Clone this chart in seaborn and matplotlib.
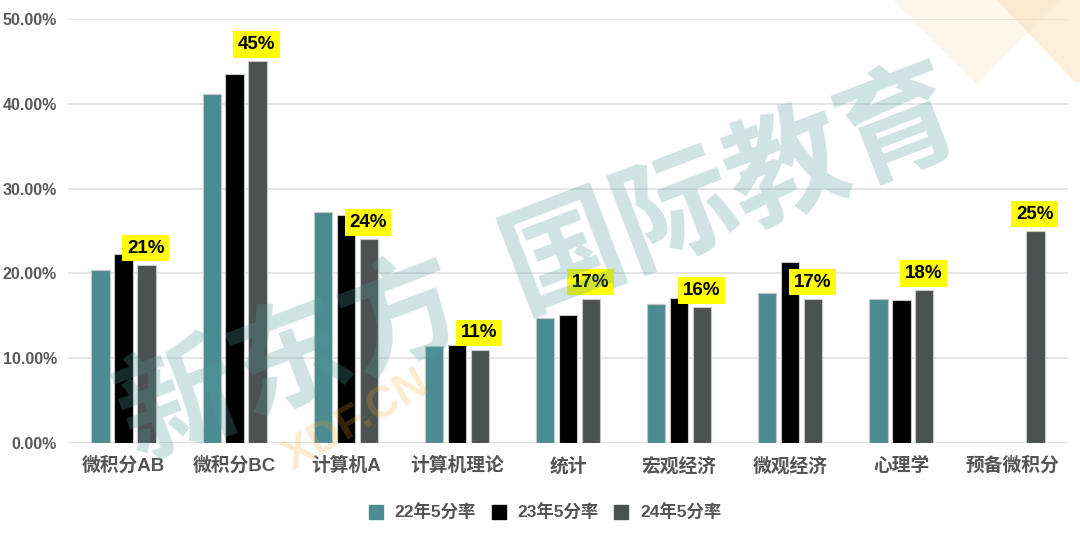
import numpy as np
import pandas as pd
import seaborn as sns
import matplotlib.pyplot as plt
from matplotlib.patches import Polygon
from matplotlib.lines import Line2D

categories = ['微积分AB', '微积分BC', '计算机A', '计算机理论', '统计', '宏观经济', '微观经济', '心理学', '预备微积分']
series_names = ['22年5分率', '23年5分率', '24年5分率']
rate_22 = [20.4, 41.2, 27.2, 11.4, 14.7, 16.4, 17.7, 17.0, np.nan]
rate_23 = [22.3, 43.5, 26.9, 11.5, 15.1, 17.1, 21.3, 16.9, np.nan]
rate_24 = [21, 45, 24, 11, 17, 16, 17, 18, 25]
y_ticks = [0, 10, 20, 30, 40, 50]

colors = ['#4B8C93', '#000000', '#4B5251']

sns.set_theme(style='white')
plt.rcParams['font.family'] = ['Liberation Sans', 'Noto Sans CJK SC', 'DejaVu Sans']

rows = []
for name, vals in zip(series_names, [rate_22, rate_23, rate_24]):
    for c, v in zip(categories, vals):
        rows.append({'科目': c, '系列': name, '5分率': v})
df = pd.DataFrame(rows)

fig = plt.figure(figsize=(10.8, 5.36), dpi=100)
ax = fig.add_axes([68/1080, 1-443/536, 1000/1080, 424/536])

sns.barplot(data=df, x='科目', y='5分率', hue='系列', order=categories,
            hue_order=series_names, palette=colors, saturation=1, width=0.62, gap=0.2,
            edgecolor='#C8C8C8', linewidth=0.8, ax=ax, legend=False, zorder=3)

ax.set_ylim(0, 50)
ax.set_xlim(-0.5, len(categories) - 0.5)
ax.set_yticks(y_ticks)
ax.set_yticklabels([f'{t:.2f}%' for t in y_ticks], fontweight='bold', color='#595959', fontsize=11.5)
ax.set_xticks(range(len(categories)))
ax.set_xticklabels(categories, fontweight='bold', color='#555555', fontsize=13.5)
ax.tick_params(axis='x', length=0, pad=10)
ax.tick_params(axis='y', length=0, pad=8)
ax.set_xlabel('')
ax.set_ylabel('')
for s in ax.spines.values():
    s.set_visible(False)
ax.yaxis.grid(True, color='#E2E2E2', linewidth=1.2, zorder=0)
ax.set_axisbelow(True)

# labels on the 24 series
bars24 = ax.containers[2]
for bar, v in zip(bars24, rate_24):
    x = bar.get_x() + bar.get_width() / 2
    ax.annotate(f'{v:.0f}%', xy=(x, v), xytext=(-0.5, 6), textcoords='offset points',
                ha='center', va='bottom', fontsize=13.5, fontweight='bold', color='#000000',
                bbox=dict(boxstyle='square,pad=0.25', facecolor='#FFFF00', edgecolor='none'),
                zorder=6)

handles = [Line2D([0], [0], marker='s', linestyle='none', markersize=10,
                  markerfacecolor=c, markeredgecolor=c) for c in colors]
fig.legend(handles, series_names, loc='center', bbox_to_anchor=(540/1080, 1-512/536),
           ncol=3, frameon=False, handletextpad=0.1, columnspacing=0.3,
           prop={'weight': 'bold', 'size': 12.5}, labelcolor='#555555')

# decorative corner shapes and watermark
fig.patches.append(Polygon([(893/1080, 1), (977/1080, 1-85/536), (1060/1080, 1)], closed=True,
                           transform=fig.transFigure, facecolor='#FBE3C0', alpha=0.3,
                           edgecolor='none', zorder=0))
fig.patches.append(Polygon([(997/1080, 1), (1075/1080, 1-82/536), (1, 1-82/536), (1, 1)], closed=True,
                           transform=fig.transFigure, facecolor='#FBE3C0', alpha=0.6,
                           edgecolor='none', zorder=0))
fig.text(0.5, 0.5, '新东方  国际教育', rotation=21, fontsize=86, fontweight='bold',
         color='#4E9C98', alpha=0.28, ha='center', va='center', zorder=10,
         family=['Noto Sans CJK SC'])
fig.text(0.33, 0.215, 'XDF.CN', rotation=30, fontsize=32, fontweight='bold',
         color='#F5A623', alpha=0.22, ha='center', va='center', zorder=10)

fig.savefig('out.png', dpi=100)
